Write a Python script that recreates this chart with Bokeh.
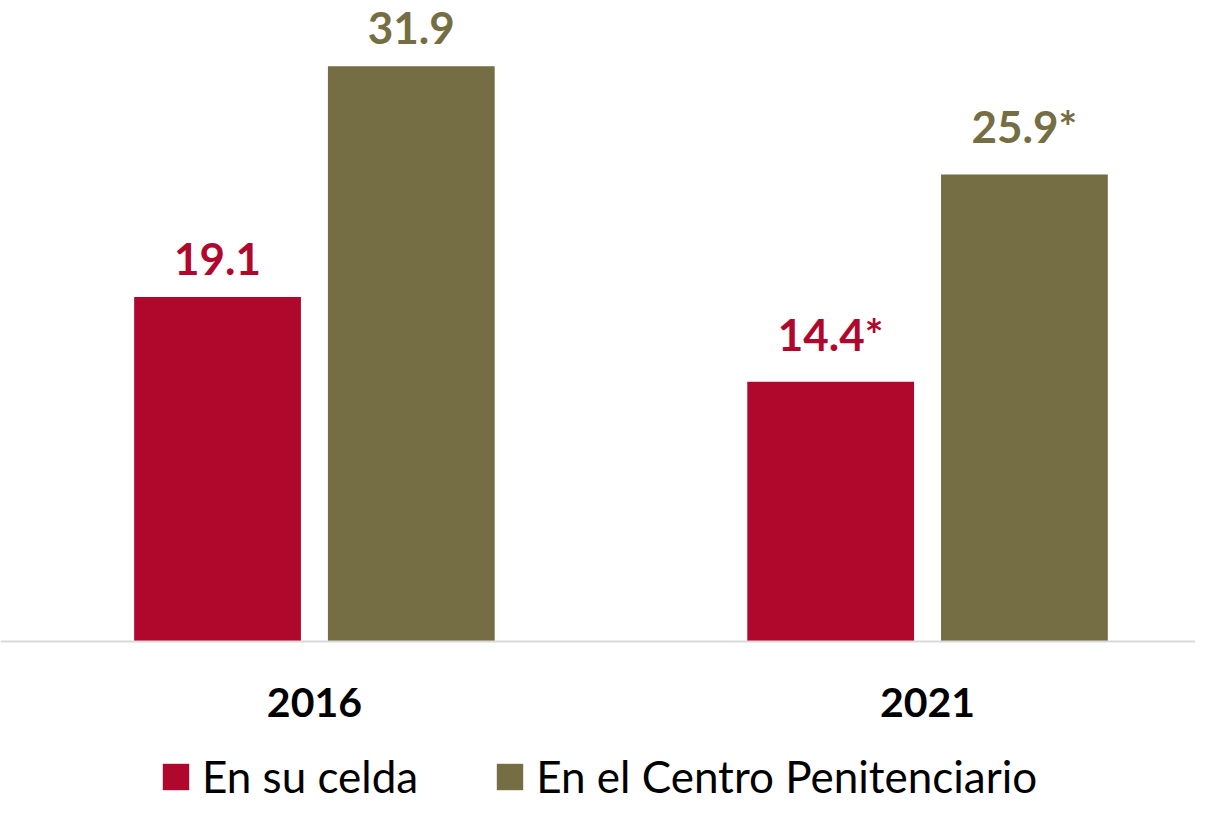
from bokeh.plotting import figure
from bokeh.models import Range1d, Legend, LegendItem, ColumnDataSource, Span
from bokeh.embed import file_html
from bokeh.resources import INLINE
from bokeh.core.properties import value

years = ["2016", "2021"]
series_names = ["En su celda", "En el Centro Penitenciario"]
celda = [19.1, 14.4]
centro = [31.9, 25.9]
celda_labels = ["19.1", "14.4*"]
centro_labels = ["31.9", "25.9*"]
colors = ["#B0082D", "#756D43"]

FONT = "Lato"
idx = list(range(len(years)))
offset = 0.158
bw = 0.272

p = figure(width=1195, height=802, output_backend="svg", toolbar_location=None,
           x_range=Range1d(-0.512, 1.437), y_range=Range1d(-8.93, 35.55),
           x_axis_location=None, y_axis_location=None,
           min_border_left=0, min_border_right=0, min_border_top=0, min_border_bottom=0)
p.outline_line_color = None
p.xgrid.visible = False
p.ygrid.visible = False
p.background_fill_color = "white"
p.border_fill_color = "white"

src1 = ColumnDataSource(dict(x=[i - offset for i in idx], top=celda, lab=celda_labels))
src2 = ColumnDataSource(dict(x=[i + offset for i in idx], top=centro, lab=centro_labels))
ysrc = ColumnDataSource(dict(x=idx, y=[0] * len(idx), lab=years))

r1 = p.vbar(x="x", top="top", bottom=0, width=bw, source=src1, fill_color=colors[0], line_color=None)
r2 = p.vbar(x="x", top="top", bottom=0, width=bw, source=src2, fill_color=colors[1], line_color=None)

p.add_layout(Span(location=0, dimension="width", line_color="#D9D9D9", line_width=2))

for src, c in ((src1, colors[0]), (src2, colors[1])):
    p.text(x="x", y="top", text="lab", source=src, text_color=c, text_font=value(FONT),
           text_font_size="44px", text_font_style="bold", text_align="center",
           text_baseline="bottom", y_offset=-22)

p.text(x="x", y="y", text="lab", source=ysrc, text_color="black", text_font=value(FONT),
       text_font_size="41px", text_font_style="bold", text_align="center",
       text_baseline="middle", y_offset=61)

legend = Legend(items=[LegendItem(label=series_names[0], renderers=[r1]),
                       LegendItem(label=series_names[1], renderers=[r2])],
                orientation="horizontal", location=(159, 0),
                label_text_font=FONT, label_text_font_size="44px", label_text_color="black",
                glyph_width=33, glyph_height=33, label_standoff=10, spacing=75,
                border_line_color=None, background_fill_alpha=0, padding=0, margin=0)
p.add_layout(legend)

open("out.html", "w").write(file_html(p, INLINE))
